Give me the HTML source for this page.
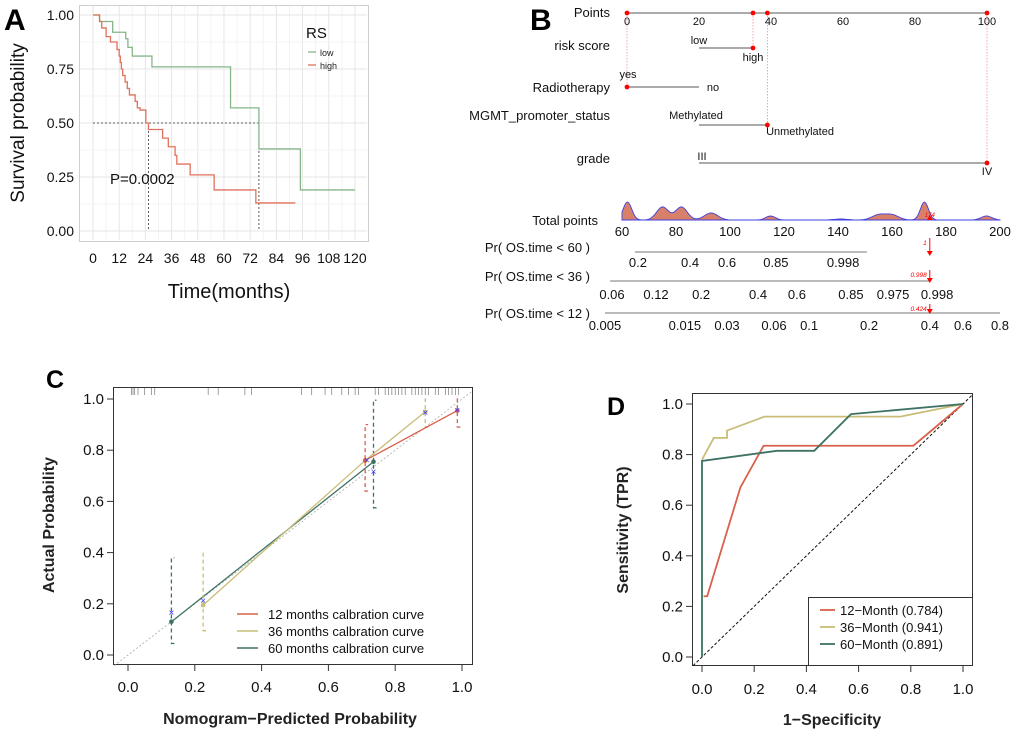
<!DOCTYPE html>
<html><head><meta charset="utf-8">
<style>
html,body{margin:0;padding:0;background:#fff;}
svg{display:block;font-family:"Liberation Sans",sans-serif;}
</style></head>
<body>
<svg id="fig" width="1020" height="740" viewBox="0 0 1020 740" xmlns="http://www.w3.org/2000/svg">
<rect x="0" y="0" width="1020" height="740" fill="#fff"/>
</svg>
<script>
// ---------- Panel A data ----------
const lowTimes=[0,3,9,15,16,18,27,63,76,95,120];
const lowSurv=[1,0.97,0.92,0.89,0.85,0.81,0.76,0.57,0.38,0.19,0.19];
const highTimes=[0,3,4,6,8,11,12,12.5,13,13.6,14.7,15.7,16.7,19.3,20.3,21.6,24.2,25.4,31.9,34.5,37.6,38.4,44.5,55.5,74.6,92.7];
const highSurv=[1,0.97,0.94,0.90,0.875,0.84,0.81,0.78,0.75,0.72,0.69,0.66,0.63,0.60,0.57,0.56,0.50,0.47,0.43,0.39,0.35,0.31,0.26,0.19,0.13,0.13];
const aXTicks=[0,12,24,36,48,60,72,84,96,108,120];
const aYTicks=[0,0.25,0.5,0.75,1];
const aYLabels=["0.00","0.25","0.50","0.75","1.00"];
const medianLow=76, medianHigh=25.4;
// ---------- Panel B data ----------
const pointTicks=[0,20,40,60,80,100];
const selectedPoints=[0,35,39,100];
const totalTicks=[60,80,100,120,140,160,180,200];
const densityCenters=[62,75,82,93,115,141,155,160,172,195];
const densityHeights=[18,13,13,7,4,1,5,5,18,4];
const densityWidths=[1.6,2.2,2.2,2.5,1.8,2.5,2.5,2.5,1.5,2];
const totalScore=174;
const pr60Labels=["0.2","0.4","0.6","0.85","0.998"];
const pr60At=[65.9,85.2,98.9,117,141.9];
const pr36Labels=["0.06","0.12","0.2","0.4","0.6","0.85","0.975","0.998"];
const pr36At=[56.3,72.6,89.3,110.4,124.8,144.8,160.4,176.7];
const pr12Labels=["0.005","0.015","0.03","0.06","0.1","0.2","0.4","0.6","0.8"];
const pr12At=[53.7,83.3,98.9,116.3,129.3,151.5,174,186.3,200];
// ---------- Panel C data ----------
const c12x=[0.71,0.986], c12y=[0.76,0.955], c12lo=[0.64,0.89], c12hi=[0.90,1.0];
const c36x=[0.225,0.71,0.89], c36y=[0.195,0.76,0.95], c36lo=[0.095,null,0.89], c36hi=[0.40,null,1.0];
const c60x=[0.13,0.735], c60y=[0.13,0.755], c60lo=[0.045,0.575], c60hi=[0.38,0.995];
const cBiasX=[0.13,0.225,0.715,0.735,0.89,0.986], cBiasY=[0.165,0.21,0.76,0.715,0.945,0.955];
const rugVals=[0.01,0.015,0.02,0.03,0.05,0.07,0.08,0.24,0.27,0.35,0.37,0.52,0.55,0.59,0.61,0.64,0.66,0.68,0.69,0.74,0.75,0.77,0.78,0.79,0.8,0.81,0.82,0.83,0.85,0.86,0.87,0.88,0.89,0.9,0.92,0.93,0.95,0.96,0.97,0.98,0.99];
const unitTicks=[0,0.2,0.4,0.6,0.8,1];
// ---------- Panel D data ----------
const r12x=[0.006,0.02,0.147,0.236,0.81,1], r12y=[0.24,0.24,0.67,0.835,0.835,1];
const r36x=[0,0.045,0.096,0.096,0.239,0.76,1], r36y=[0.78,0.866,0.866,0.895,0.95,0.95,1];
const r60x=[0,0,0.287,0.43,0.571,1], r60y=[0,0.775,0.815,0.815,0.96,1];
const rocLegend=["12\u2212Month (0.784)","36\u2212Month (0.941)","60\u2212Month (0.891)"];

const NS='http://www.w3.org/2000/svg';
const svg=document.getElementById('fig');
function el(tag,attrs,parent){const e=document.createElementNS(NS,tag);for(const k in attrs)e.setAttribute(k,attrs[k]);(parent||svg).appendChild(e);return e;}
function txt(x,y,s,attrs){const t=el('text',Object.assign({x:x,y:y},attrs||{}));t.textContent=s;return t;}
const RED='#d9604a', KHAKI='#c9bd78', TEAL='#3e7264', GREENA='#86b58a', REDA='#e0715c';

// ================= Panel A =================
const xA=m=>93+m*2.183, yA=p=>231-p*216;
let e;
e=txt(4,30,"A",{'font-size':30,'font-weight':'bold'});

for(let m=0;m<=120;m+=6){e=el('line',{x1:xA(m),x2:xA(m),y1:6,y2:240,stroke:m%12?'#f3f3f3':'#e6e6e6','stroke-width':1});
}
for(let p=0;p<=1.0001;p+=0.125){e=el('line',{x1:80,x2:367,y1:yA(p),y2:yA(p),stroke:(Math.round(p*8)%2)?'#f3f3f3':'#e6e6e6','stroke-width':1});
}
e=el('rect',{x:79.5,y:5.5,width:289,height:236,fill:'none',stroke:'#cfcfcf'});

aYTicks.forEach((v,i)=>{e=txt(74,yA(v)+5,aYLabels[i],{'font-size':14,'text-anchor':'end',fill:'#111'});
});
aXTicks.forEach(v=>{e=txt(xA(v),263,String(v),{'font-size':14,'text-anchor':'middle',fill:'#111'});
});
e=txt(229,298,"Time(months)",{'font-size':20,'text-anchor':'middle',fill:'#111'});

e=txt(0,0,"Survival probability",{'font-size':19,'text-anchor':'middle',fill:'#111',transform:'translate(24,123) rotate(-90)'});

function stepPath(ts,ss,fx,fy){let d='M'+fx(ts[0])+' '+fy(ss[0]);for(let i=1;i<ts.length;i++){d+=' H'+fx(ts[i])+' V'+fy(ss[i]);}return d;}
e=el('path',{d:'M'+xA(0)+' '+yA(0.5)+' H'+xA(medianLow)+' M'+xA(medianHigh)+' '+yA(0.5)+' V'+yA(0)+' M'+xA(medianLow)+' '+yA(0.5)+' V'+yA(0),fill:'none',stroke:'#333','stroke-width':0.8,'stroke-dasharray':'2,2'});

e=el('path',{d:stepPath(lowTimes,lowSurv,xA,yA),fill:'none',stroke:GREENA,'stroke-width':1.3});

e=el('path',{d:stepPath(highTimes,highSurv,xA,yA),fill:'none',stroke:REDA,'stroke-width':1.3});

e=txt(110,184,"P=0.0002",{'font-size':15,fill:'#111'});

e=txt(306,38,"RS",{'font-size':15,fill:'#111'});

e=el('line',{x1:308,x2:316,y1:52,y2:52,stroke:GREENA,'stroke-width':1.3});

e=txt(320,56,"low",{'font-size':9,fill:'#222'});

e=el('line',{x1:308,x2:316,y1:65,y2:65,stroke:REDA,'stroke-width':1.3});

e=txt(320,69,"high",{'font-size':9,fill:'#222'});


// ================= Panel B =================
const xP=p=>627+p*3.6, xT=t=>622+(t-60)*2.7;
e=txt(530,30,"B",{'font-size':30,'font-weight':'bold'});

const rowLabels=[["Points",17],["risk score",50],["Radiotherapy",92],["MGMT_promoter_status",120],["grade",163],["Total points",225],["Pr( OS.time < 60 )",252],["Pr( OS.time < 36 )",281],["Pr( OS.time < 12 )",318]];
rowLabels.forEach((r,i)=>{e=txt(i>=6?590:(i==5?598:610),r[1],r[0],{'font-size':13,'text-anchor':'end',fill:'#111'});
});
[[0,87],[35,48],[39,125],[100,163]].forEach(g=>{e=el('line',{x1:xP(g[0]),x2:xP(g[0]),y1:13,y2:g[1],stroke:'#f08080','stroke-width':0.7,'stroke-dasharray':'1.5,1.5'});
});
e=el('line',{x1:xP(0),x2:xP(100),y1:13,y2:13,stroke:'#777','stroke-width':1.2});

pointTicks.forEach(v=>{e=txt(xP(v),25,String(v),{'font-size':11,'text-anchor':'middle',fill:'#111'});
});
function seg(a,b,y){const s=el('line',{x1:xP(a),x2:xP(b),y1:y,y2:y,stroke:'#777','stroke-width':1.2});return s;}
e=seg(20,35,48);
e=seg(0,20,87);
e=seg(20,39,125);
e=seg(20,100,163);
const lvl=[["low",699,44],["high",753,61],["yes",628,78],["no",713,91],["Methylated",696,119],["Unmethylated",800,135],["III",702,160],["IV",987,175]];
lvl.forEach(l=>{e=txt(l[1],l[2],l[0],{'font-size':11,'text-anchor':'middle',fill:'#111'});
});
[[0,13],[35,13],[39,13],[100,13],[35,48],[0,87],[39,125],[100,163]].forEach(d=>{e=el('circle',{cx:xP(d[0]),cy:d[1],r:2.4,fill:'#f00'});
});
let dd='M'+xT(60)+' 220';
for(let t=60;t<=200;t+=0.5){let h=0;for(let i=0;i<densityCenters.length;i++){const z=(t-densityCenters[i])/densityWidths[i];h+=densityHeights[i]*Math.exp(-z*z/2);}dd+=' L'+xT(t).toFixed(1)+' '+(220-h).toFixed(1);}
dd+=' L'+xT(200)+' 220 Z';
e=el('path',{d:dd,fill:'#d9806a',stroke:'#4040e0','stroke-width':0.9});

totalTicks.forEach(v=>{e=txt(xT(v),236,String(v),{'font-size':13,'text-anchor':'middle',fill:'#111'});
});
e=txt(xT(totalScore),217,String(totalScore),{'font-size':6,'text-anchor':'middle',fill:'#f00','font-style':'italic'});

e=el('path',{d:'M'+(xT(totalScore)-3)+' 220 L'+(xT(totalScore)+3)+' 220 L'+xT(totalScore)+' 215 Z',fill:'#f00'});

function prAxis(lbls,at,lineFrom,lineTo,y,ly,name){
  e=el('line',{x1:xT(lineFrom),x2:xT(lineTo),y1:y,y2:y,stroke:'#777','stroke-width':1});
  
  lbls.forEach((s,i)=>{const t=txt(xT(at[i]),ly,s,{'font-size':13,'text-anchor':'middle',fill:'#111'});
  });
}
prAxis(pr60Labels,pr60At,64.8,150.7,252,267,'pr60');
prAxis(pr36Labels,pr36At,55.6,174,281,299,'pr36');
prAxis(pr12Labels,pr12At,53.7,200,313,330,'pr12');
[[238,256,"1"],[270,283,"0.998"],[304,314,"0.424"]].forEach(a=>{
  const x=xT(totalScore);
  e=el('line',{x1:x,x2:x,y1:a[0],y2:a[1]-4,stroke:'#f00','stroke-width':1});
  
  e=el('path',{d:'M'+(x-3)+' '+(a[1]-5)+' L'+(x+3)+' '+(a[1]-5)+' L'+x+' '+a[1]+' Z',fill:'#f00'});
  
  e=txt(x-3,a[0]+7,a[2],{'font-size':6.5,'text-anchor':'end',fill:'#f00','font-style':'italic'});
  
});

// ================= Panel C =================
const xC=p=>128+p*334, yC=p=>655-p*256;
e=txt(46,388,"C",{'font-size':25,'font-weight':'bold'});

e=el('rect',{x:113.5,y:387.5,width:359,height:277,fill:'none',stroke:'#333','stroke-width':1});

e=el('line',{x1:114,y1:yC((114-128)/334),x2:472,y2:yC((472-128)/334),stroke:'#aaa','stroke-width':0.8,'stroke-dasharray':'2,2'});

rugVals.forEach(v=>{e=el('line',{x1:xC(v),x2:xC(v),y1:388,y2:395,stroke:'#777','stroke-width':0.7});
});
unitTicks.forEach(v=>{
  e=el('line',{x1:107,x2:113,y1:yC(v),y2:yC(v),stroke:'#333'});
  e=txt(104,yC(v)+5,v.toFixed(1),{'font-size':15,'text-anchor':'end',fill:'#111'});
  e=el('line',{x1:xC(v),x2:xC(v),y1:665,y2:671,stroke:'#333'});
  e=txt(xC(v),692,v.toFixed(1),{'font-size':15,'text-anchor':'middle',fill:'#111'});
});
e=txt(290,724,"Nomogram\u2212Predicted Probability",{'font-size':16,'font-weight':'bold','text-anchor':'middle',fill:'#222'});

e=txt(0,0,"Actual Probability",{'font-size':16,'font-weight':'bold','text-anchor':'middle',fill:'#222',transform:'translate(54,525) rotate(-90)'});

function calib(xs,ys,lo,hi,col,name){
  xs.forEach((x,i)=>{if(lo[i]==null)return;
    const X=xC(x);
    e=el('path',{d:'M'+(X+3)+' '+yC(lo[i])+' H'+X+' V'+yC(hi[i])+' H'+(X+3),fill:'none',stroke:col,'stroke-width':1.3,'stroke-dasharray':'4,3'});
    });
  e=el('polyline',{points:xs.map((x,i)=>xC(x)+','+yC(ys[i])).join(' '),fill:'none',stroke:col,'stroke-width':1.3});
  
  xs.forEach((x,i)=>{e=el('circle',{cx:xC(x),cy:yC(ys[i]),r:2.3,fill:col});
    });
}
calib(c60x,c60y,c60lo,c60hi,TEAL,'calibration-60');
calib(c36x,c36y,c36lo,c36hi,KHAKI,'calibration-36');
calib(c12x,c12y,c12lo,c12hi,RED,'calibration-12');
cBiasX.forEach((x,i)=>{e=txt(xC(x),yC(cBiasY[i])+3,"\u00d7",{'font-size':10,'text-anchor':'middle',fill:'#3a3aff'});
});
[["12 months calbration curve",RED,619],["36 months calbration curve",KHAKI,636],["60 months calbration curve",TEAL,653]].forEach(l=>{
  e=el('line',{x1:237,x2:258,y1:l[2]-5,y2:l[2]-5,stroke:l[1],'stroke-width':1.5});
  e=txt(268,l[2],l[0],{'font-size':13,fill:'#111'});
});

// ================= Panel D =================
const xD=p=>702+p*261, yD=p=>657-p*253;
e=txt(607,415,"D",{'font-size':25,'font-weight':'bold'});

e=el('rect',{x:692.5,y:393.5,width:280,height:272,fill:'none',stroke:'#333','stroke-width':1});

e=el('line',{x1:693,y1:yD((693-702)/261),x2:972,y2:yD((972-702)/261),stroke:'#111','stroke-width':1,'stroke-dasharray':'3,2'});

unitTicks.forEach(v=>{
  e=el('line',{x1:686,x2:692,y1:yD(v),y2:yD(v),stroke:'#333'});
  e=txt(683,yD(v)+5,v.toFixed(1),{'font-size':15,'text-anchor':'end',fill:'#111'});
  e=el('line',{x1:xD(v),x2:xD(v),y1:666,y2:672,stroke:'#333'});
  e=txt(xD(v),694,v.toFixed(1),{'font-size':15,'text-anchor':'middle',fill:'#111'});
});
e=txt(832,725,"1\u2212Specificity",{'font-size':16,'font-weight':'bold','text-anchor':'middle',fill:'#222'});

e=txt(0,0,"Sensitivity (TPR)",{'font-size':16,'font-weight':'bold','text-anchor':'middle',fill:'#222',transform:'translate(628,530) rotate(-90)'});

function roc(xs,ys,col,name){e=el('polyline',{points:xs.map((x,i)=>xD(x)+','+yD(ys[i])).join(' '),fill:'none',stroke:col,'stroke-width':1.8});
}
roc(r12x,r12y,RED,'roc-curve-12-month');
roc(r36x,r36y,KHAKI,'roc-curve-36-month');
roc(r60x,r60y,TEAL,'roc-curve-60-month');
e=el('rect',{x:808.5,y:597.5,width:164,height:68,fill:'#fff',stroke:'#333'});

[RED,KHAKI,TEAL].forEach((c,i)=>{const y=615+i*17;
  e=el('line',{x1:820,x2:835,y1:y-5,y2:y-5,stroke:c,'stroke-width':1.8});
  e=txt(840,y,rocLegend[i],{'font-size':13,fill:'#111'});
});
</script>
</body></html>
